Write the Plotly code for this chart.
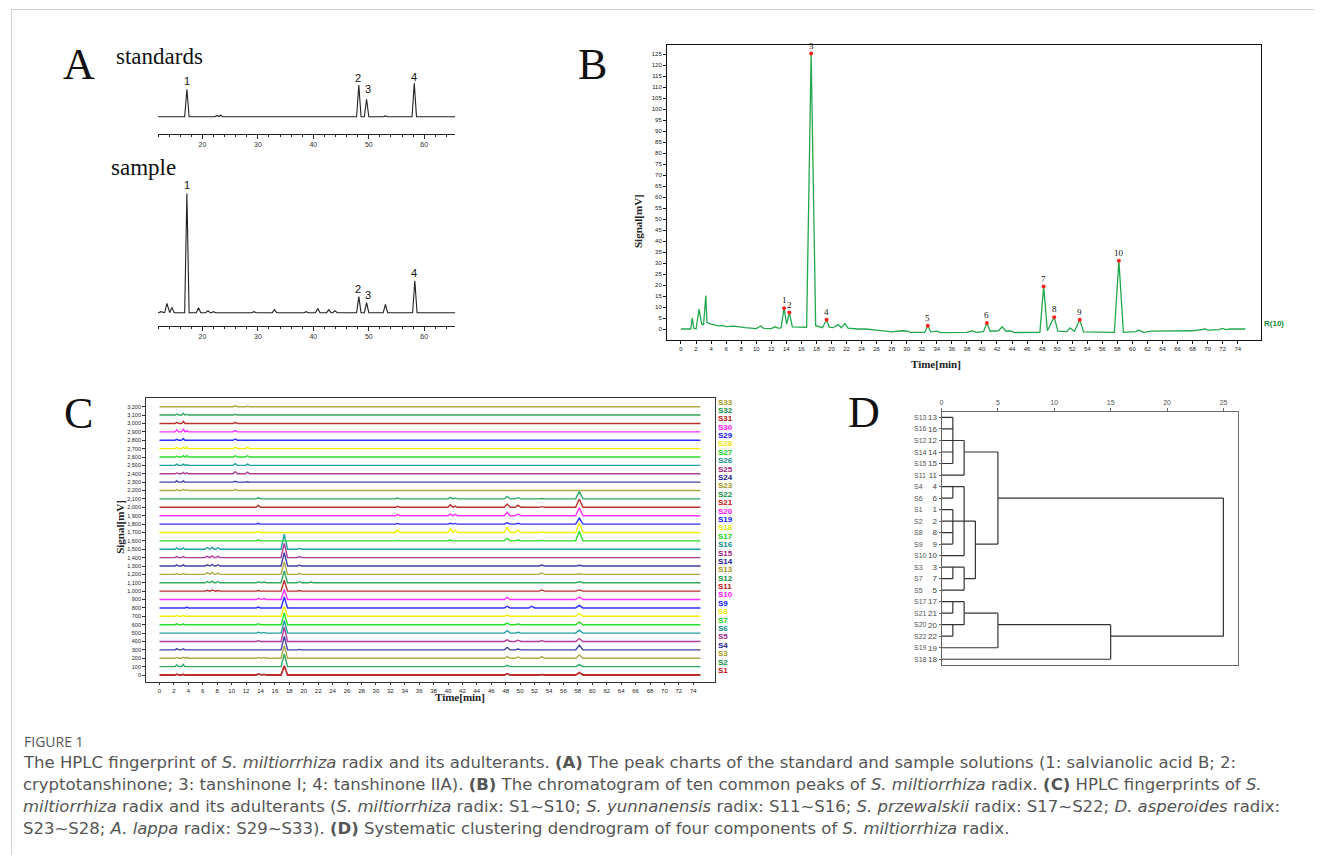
import plotly.graph_objects as go

# ================= DATA =================
# ---- Panel A (standards / sample), peak retention time (min) and height (a.u.) ----
A_STD_T = [17.2, 22.6, 23.3, 48.2, 49.6, 53.0, 58.2]
A_STD_H = [27.4, 1.2, 1.5, 31.7, 17.4, 0.8, 33.4]
A_SMP_T = [12.5, 13.6, 14.5, 17.2, 19.3, 21.0, 22.0, 29.3, 33.0, 38.7, 40.8, 42.8, 43.9, 48.2, 49.6, 53.0, 58.3]
A_SMP_H = [1.0, 9.3, 5.3, 119.3, 5.0, 2.0, 1.0, 1.0, 3.0, 1.0, 4.3, 3.0, 2.0, 16.0, 10.0, 8.3, 32.0]
A_PEAK_NAMES = ["1", "2", "3", "4"]
A_STD_LABEL_T = [17.2, 48.0, 49.8, 58.2]
A_STD_LABEL_Y = [36.0, 38.7, 27.7, 40.0]
A_SMP_LABEL_T = [17.2, 48.0, 49.8, 58.2]
A_SMP_LABEL_Y = [127.7, 23.7, 17.7, 40.0]
A_TICKS = [20, 30, 40, 50, 60]

# ---- Panel B: reference chromatogram R(10) (time min, signal mV) ----
B_T = [0, 1.3, 1.5, 1.7, 2.0, 2.4, 2.75, 3.0, 3.3, 3.45, 4.0, 5.0, 5.5, 6.0, 7.0, 7.5, 8.5, 10.0,
       10.6, 11.0, 12.0, 12.5, 12.9, 13.3, 13.7, 14.05, 14.4, 14.8, 16.7, 17.3, 17.9, 18.8, 19.35,
       19.7, 20.2, 20.9, 21.3, 21.8, 22.2, 23.5, 24.5, 26.0, 28.0, 29.3, 30.0, 30.5, 32.4, 32.8,
       33.2, 34.0, 34.5, 38.0, 38.7, 39.2, 40.2, 40.65, 41.1, 42.2, 42.7, 43.2, 43.7, 44.4, 47.7,
       48.2, 48.7, 49.6, 50.1, 51.3, 51.7, 52.3, 53.0, 53.5, 57.6, 58.2, 58.8, 60.5, 60.8, 61.5,
       62.5, 68.0, 69.7, 70.0, 71.5, 72.0, 72.4, 73.0, 75.0]
B_Y = [0, 0, 5.0, 0.3, 0.0, 9.0, 2.2, 2.0, 15.2, 3.0, 2.2, 1.4, 1.6, 1.1, 1.3, 1.0, 0.6, 0.2,
       1.4, 0.3, 0.2, 1.0, 0.4, 0.5, 9.5, 2.2, 7.5, 1.0, 0.8, 125.3, 1.5, 0.6, 4.2,
       0.8, 0.6, 2.0, 0.6, 2.5, 0.4, 0.0, 0.0, -0.5, -1.3, -0.8, -0.9, -1.5, -1.5, 1.5,
       -1.3, -1.0, -1.6, -1.5, -0.8, -1.5, -1.2, 2.7, -1.0, -0.8, 1.0, -1.0, -0.8, -1.6, -1.5,
       19.3, -0.8, 5.4, -1.0, -1.2, 0.5, -1.0, 4.2, -1.3, -1.5, 31.0, -1.5, -1.2, -0.5, -1.5,
       -1.0, -0.8, 0.0, -0.5, -0.3, 0.3, -0.3, 0.0, 0.0]
B_PEAK_T = [13.7, 14.4, 17.3, 19.35, 32.8, 40.65, 48.2, 49.6, 53.0, 58.2]
B_PEAK_NAMES = ["1", "2", "3", "4", "5", "6", "7", "8", "9", "10"]

# ---- Panel C: fingerprints S1..S33 (common retention times, heights in mV) ----
C_T = [1.5, 2.4, 3.3, 3.8, 6.6, 7.3, 8.1, 10.5, 12.2, 13.7, 14.5, 17.3, 19.4, 21.0,
       33.0, 35.5, 40.3, 41.0, 48.2, 49.7, 51.6, 53.0, 58.2]
C_W = [0.2, 0.25, 0.22, 0.22, 0.3, 0.3, 0.3, 0.3, 0.3, 0.3, 0.3, 0.45, 0.3, 0.3,
       0.3, 0.3, 0.3, 0.3, 0.4, 0.4, 0.4, 0.4, 0.5]
SMILT_H = [  # S1-S10
    [0, 10, 8, 0, 0, 0, 0, 0, 0, 12, 8, 110, 5, 0, 0, 0, 0, 0, 15, 0, 0, 5, 30],
    [0, 20, 25, 0, 0, 0, 0, 0, 0, 8, 8, 150, 0, 0, 0, 0, 0, 0, 15, 0, 0, 0, 25],
    [0, 10, 10, 10, 0, 0, 0, 0, 0, 10, 10, 150, 0, 0, 5, 0, 0, 0, 20, 15, 0, 20, 40],
    [0, 15, 12, 0, 0, 0, 0, 0, 0, 8, 0, 160, 5, 5, 0, 0, 0, 0, 30, 10, 0, 8, 55],
    [0, 0, 0, 0, 0, 0, 0, 0, 0, 10, 0, 170, 0, 0, 0, 0, 0, 0, 20, 15, 0, 10, 35],
    [0, 8, 8, 0, 0, 0, 0, 0, 0, 10, 8, 150, 6, 0, 0, 0, 0, 0, 30, 10, 0, 8, 35],
    [0, 10, 8, 0, 0, 0, 0, 0, 0, 10, 0, 140, 0, 0, 0, 0, 0, 0, 20, 8, 0, 8, 30],
    [0, 10, 10, 0, 0, 0, 0, 0, 0, 8, 0, 120, 0, 0, 0, 0, 0, 0, 15, 0, 0, 8, 30],
    [0, 0, 0, 10, 0, 0, 0, 0, 0, 10, 8, 130, 0, 0, 0, 0, 0, 0, 20, 0, 20, 0, 30],
    [0, 8, 8, 0, 0, 0, 0, 0, 0, 15, 12, 120, 8, 0, 0, 0, 0, 0, 25, 0, 0, 0, 30],
]
SYUNN_H = [  # S11-S16
    [0, 6, 8, 0, 10, 15, 8, 0, 0, 8, 8, 130, 8, 5, 0, 0, 0, 0, 6, 0, 0, 15, 15],
    [0, 8, 8, 0, 15, 20, 15, 0, 0, 10, 8, 140, 15, 8, 0, 0, 0, 0, 0, 0, 0, 8, 12],
    [0, 10, 10, 0, 20, 25, 15, 0, 0, 8, 8, 150, 12, 8, 0, 0, 0, 0, 0, 0, 0, 15, 8],
    [0, 15, 15, 0, 15, 20, 15, 0, 0, 8, 8, 160, 10, 8, 0, 0, 0, 0, 0, 0, 0, 12, 8],
    [0, 12, 12, 0, 15, 20, 15, 0, 0, 8, 0, 170, 12, 0, 0, 0, 0, 0, 0, 0, 0, 5, 0],
    [0, 15, 15, 0, 20, 25, 20, 0, 0, 8, 6, 180, 12, 6, 0, 0, 0, 0, 0, 0, 0, 5, 0],
]
SPRZ_H = [  # S17-S22
    [0, 0, 0, 0, 0, 0, 0, 0, 0, 12, 0, 0, 0, 0, 5, 0, 12, 0, 30, 10, 0, 5, 115],
    [0, 0, 0, 0, 0, 0, 0, 0, 0, 10, 0, 0, 0, 0, 30, 8, 45, 25, 60, 30, 0, 5, 115],
    [0, 0, 0, 0, 0, 0, 0, 0, 0, 10, 0, 0, 0, 0, 8, 0, 10, 8, 15, 10, 0, 0, 70],
    [0, 0, 0, 0, 0, 0, 0, 0, 0, 0, 0, 0, 0, 0, 15, 0, 20, 15, 40, 20, 0, 0, 95],
    [0, 0, 0, 0, 0, 0, 0, 0, 0, 25, 0, 0, 0, 0, 12, 8, 30, 15, 40, 25, 0, 8, 100],
    [0, 0, 0, 0, 0, 0, 0, 0, 0, 15, 0, 0, 0, 0, 10, 0, 20, 12, 30, 15, 0, 5, 90],
]
DASP_H = [  # S23-S28 (first 9 retention times; later ones absent)
    [0, 12, 15, 10, 0, 0, 0, 15, 8],
    [0, 15, 15, 8, 0, 0, 0, 10, 5],
    [0, 10, 15, 12, 0, 0, 0, 25, 20],
    [0, 15, 15, 10, 0, 0, 0, 20, 15],
    [0, 10, 15, 15, 0, 0, 0, 15, 15],
    [0, 15, 20, 15, 0, 0, 0, 20, 15],
]
ALAP_H = [  # S29-S33
    [0, 10, 20, 0, 0, 0, 0, 15, 0],
    [0, 25, 35, 15, 0, 0, 0, 15, 8],
    [0, 12, 25, 0, 0, 0, 0, 10, 0],
    [0, 12, 20, 10, 0, 0, 0, 10, 0],
    [5, 5, 8, 5, 0, 0, 0, 10, 5],
]
C_OFFSET_STEP = 100
C_LINE_COLORS = ["#b83030", "#30a860", "#b0a848", "#4040a8", "#b03c98",
                 "#20a0a0", "#28e028", "#f0f000", "#3030ff", "#ff30ff"]
C_LABEL_COLORS = ["#c01010", "#109040", "#a09820", "#202090", "#a02080",
                  "#108c8c", "#10d010", "#e8e800", "#1010ff", "#ff10ff"]
C_Y_TICKS = list(range(0, 3201, 100))

# ---- Panel D: dendrogram ----
D_LEAVES = [13, 16, 12, 14, 15, 11, 4, 6, 1, 2, 8, 9, 10, 3, 7, 5, 17, 21, 20, 22, 19, 18]
D_H_ROW = [0, 1, 2, 3, 4, 5, 3, 6, 7, 8, 9, 10, 11, 12, 13, 14, 15, 14, 11, 7,
           16, 17, 18, 19, 20, 21, 17, 18, 19]
D_H_X0 = [0, 0, 0, 0, 0, 0, 2, 0, 0, 0, 0, 0, 0, 0, 0, 0, 0, 2, 3, 5,
          0, 0, 0, 0, 0, 0, 2, 5, 15]
D_H_X1 = [1, 1, 2, 1, 1, 2, 5, 2, 1, 1, 3, 1, 1, 2, 2, 1, 2, 3, 5, 25,
          2, 1, 2, 1, 5, 15, 5, 15, 25]
D_V_X = [1, 2, 5, 1, 1, 2, 1, 2, 3, 25, 1, 1, 2, 5, 15]
D_V_R0 = [0, 2, 3, 6, 8, 6, 13, 13, 9, 7, 16, 18, 16, 17, 18]
D_V_R1 = [4, 5, 11, 7, 11, 12, 14, 15, 14, 19, 17, 19, 18, 20, 21]
D_TICKS = [0, 5, 10, 15, 20, 25]

CAPTION_LINES = [
    "The HPLC fingerprint of <i>S. miltiorrhiza</i> radix and its adulterants. <b>(A)</b> The peak charts of the standard and sample solutions (1: salvianolic acid B; 2:",
    "cryptotanshinone; 3: tanshinone I; 4: tanshinone IIA). <b>(B)</b> The chromatogram of ten common peaks of <i>S. miltiorrhiza</i> radix. <b>(C)</b> HPLC fingerprints of <i>S.</i>",
    "<i>miltiorrhiza</i> radix and its adulterants (<i>S. miltiorrhiza</i> radix: S1~S10; <i>S. yunnanensis</i> radix: S11~S16; <i>S. przewalskii</i> radix: S17~S22; <i>D. asperoides</i> radix:",
    "S23~S28; <i>A. lappa</i> radix: S29~S33). <b>(D)</b> Systematic clustering dendrogram of four components of <i>S. miltiorrhiza</i> radix.",
]

# ================= LAYOUT HELPERS =================
W, H, OX, OY = 1306, 847, 8, 8


def px_x(X):
    return (X - OX) / W


def px_y(Y):
    return 1 - (Y - OY) / H


def xdom(x0, x1):
    return [px_x(x0), px_x(x1)]


def ydom(ytop, ybot):
    return [px_y(ybot), px_y(ytop)]


def peak_line(times, heights, widths, t0, t1, base=0.0):
    xs, ys = [t0], [base]
    for t, h, w in zip(times, heights, widths):
        if h <= 0:
            continue
        xs += [t - w, t, t + w]
        ys += [base, base + h, base]
    xs.append(t1)
    ys.append(base)
    return xs, ys


SERIF = "Liberation Serif"
SANS = "Liberation Sans"
CAP_FONT = "DejaVu Sans"

fig = go.Figure()
annotations = []

# ================= PANEL A =================
xs, ys = peak_line(A_STD_T, A_STD_H, [0.4] * len(A_STD_T), 12.0, 65.6)
fig.add_trace(go.Scatter(x=xs, y=ys, mode="lines", line=dict(color="#202020", width=1.1),
                         xaxis="x", yaxis="y", showlegend=False, hoverinfo="skip"))
xs, ys = peak_line(A_SMP_T, A_SMP_H, [0.4] * len(A_SMP_T), 12.0, 65.6)
fig.add_trace(go.Scatter(x=xs, y=ys, mode="lines", line=dict(color="#202020", width=1.1),
                         xaxis="x2", yaxis="y2", showlegend=False, hoverinfo="skip"))
for name, t, y in zip(A_PEAK_NAMES, A_STD_LABEL_T, A_STD_LABEL_Y):
    annotations.append(dict(x=t, y=y, xref="x", yref="y", text=name, showarrow=False,
                            font=dict(family=SANS, size=11, color="#111"), yanchor="middle"))
for name, t, y in zip(A_PEAK_NAMES, A_SMP_LABEL_T, A_SMP_LABEL_Y):
    annotations.append(dict(x=t, y=y, xref="x2", yref="y2", text=name, showarrow=False,
                            font=dict(family=SANS, size=11, color="#111"), yanchor="middle"))

a_xaxis = dict(range=[11.95, 65.6], showline=True, linecolor="#222", linewidth=1,
               ticks="outside", ticklen=4, tickcolor="#222", tickvals=A_TICKS,
               tickfont=dict(family=SANS, size=7, color="#333"), showgrid=False, zeroline=False,
               minor=dict(ticks="outside", ticklen=2, dtick=2, tickcolor="#222", showgrid=False))
a_yaxis = dict(visible=False, showgrid=False, zeroline=False)

# ================= PANEL B =================
fig.add_trace(go.Scatter(x=B_T, y=B_Y, mode="lines", line=dict(color="#22a84c", width=1.3),
                         xaxis="x3", yaxis="y3", showlegend=False, hoverinfo="skip"))
b_peak_y = [B_Y[B_T.index(t)] for t in B_PEAK_T]
fig.add_trace(go.Scatter(x=B_PEAK_T, y=b_peak_y, mode="markers",
                         marker=dict(color="#ff2020", size=4), xaxis="x3", yaxis="y3",
                         showlegend=False, hoverinfo="skip"))
for name, t, y in zip(B_PEAK_NAMES, B_PEAK_T, b_peak_y):
    annotations.append(dict(x=t, y=y, xref="x3", yref="y3", text=name, showarrow=False,
                            yanchor="bottom", yshift=1,
                            font=dict(family=SERIF, size=9, color="#111")))
annotations.append(dict(x=px_x(1262), y=px_y(324), xref="paper", yref="paper", text="<b>R(10)</b>",
                        showarrow=False, xanchor="left", yanchor="middle",
                        font=dict(family=SANS, size=8, color="#108a30")))
annotations.append(dict(x=px_x(637), y=px_y(192), xref="paper", yref="paper", text="<b>Signal[mV]</b>",
                        showarrow=False, textangle=-90, font=dict(family=SERIF, size=11, color="#222")))
annotations.append(dict(x=px_x(962), y=px_y(364), xref="paper", yref="paper", text="<b>Time[min]</b>",
                        showarrow=False, font=dict(family=SERIF, size=11, color="#222")))

b_xaxis = dict(range=[-1.86, 77.1], showline=True, mirror=True, linecolor="#111", linewidth=1,
               ticks="outside", ticklen=3, tickcolor="#111", tickvals=list(range(0, 75, 2)),
               tickfont=dict(family=SANS, size=6, color="#222"), showgrid=False, zeroline=False)
b_yaxis = dict(range=[-5.0, 129.2], showline=True, mirror=True, linecolor="#111", linewidth=1,
               ticks="outside", ticklen=3, tickcolor="#111", tickvals=list(range(0, 126, 5)),
               tickfont=dict(family=SANS, size=6, color="#222"), showgrid=False, zeroline=False)

# ================= PANEL C =================
groups = SMILT_H + SYUNN_H + SPRZ_H + DASP_H + ALAP_H
for i, hts in enumerate(groups):
    hts_full = hts + [0] * (len(C_T) - len(hts))
    base = i * C_OFFSET_STEP
    xs, ys = peak_line(C_T, hts_full, C_W, 0.0, 75.0, base)
    col = C_LINE_COLORS[i % 10]
    fig.add_trace(go.Scatter(x=xs, y=ys, mode="lines", line=dict(color=col, width=1.4 if i else 1.8),
                             xaxis="x4", yaxis="y4", showlegend=False, hoverinfo="skip"))
    annotations.append(dict(x=px_x(715), y=base + 55, xref="paper", yref="y4", text="<b>S%d</b>" % (i + 1),
                            showarrow=False, xanchor="left", yanchor="middle",
                            font=dict(family=SANS, size=8, color=C_LABEL_COLORS[i % 10])))
annotations.append(dict(x=px_x(110), y=px_y(527), xref="paper", yref="paper", text="<b>Signal[mV]</b>",
                        showarrow=False, textangle=-90, font=dict(family=SERIF, size=11, color="#222")))
annotations.append(dict(x=px_x(432), y=px_y(705), xref="paper", yref="paper", text="<b>Time[min]</b>",
                        showarrow=False, font=dict(family=SERIF, size=11, color="#222")))

c_xaxis = dict(range=[-1.86, 77.0], showline=True, mirror=True, linecolor="#333", linewidth=1,
               ticks="outside", ticklen=2, tickcolor="#333", tickvals=list(range(0, 75, 2)),
               tickfont=dict(family=SANS, size=6, color="#222"), showgrid=False, zeroline=False)
c_yaxis = dict(range=[-87, 3300], showline=True, mirror=True, linecolor="#333", linewidth=1,
               ticks="outside", ticklen=3, tickcolor="#333", tickvals=C_Y_TICKS,
               ticktext=["{:,}".format(v) for v in C_Y_TICKS],
               tickfont=dict(family=SANS, size=5.5, color="#222"), showgrid=False, zeroline=False)

# ================= PANEL D =================
dx, dy = [], []
for r, x0, x1 in zip(D_H_ROW, D_H_X0, D_H_X1):
    dx += [x0, x1, None]
    dy += [r, r, None]
for x, r0, r1 in zip(D_V_X, D_V_R0, D_V_R1):
    dx += [x, x, None]
    dy += [r0, r1, None]
fig.add_trace(go.Scatter(x=dx, y=dy, mode="lines", line=dict(color="#333", width=1.2),
                         xaxis="x5", yaxis="y5", showlegend=False, hoverinfo="skip"))
for r, leaf in enumerate(D_LEAVES):
    annotations.append(dict(x=px_x(911), y=r, xref="paper", yref="y5", text="S%d" % leaf,
                            showarrow=False, xanchor="left", yanchor="middle",
                            font=dict(family=SANS, size=7, color="#555")))

d_xaxis = dict(range=[0, 26.28], side="top", showline=True, mirror=True, linecolor="#666", linewidth=1,
               ticks="outside", ticklen=3, tickcolor="#666", tickvals=D_TICKS,
               tickfont=dict(family=SANS, size=7, color="#555"), showgrid=False, zeroline=False)
d_yaxis = dict(range=[21.5, -0.5], showline=True, mirror=True, linecolor="#666", linewidth=1,
               ticks="outside", ticklen=2, tickcolor="#666", tickvals=list(range(len(D_LEAVES))),
               ticktext=[str(v) for v in D_LEAVES],
               tickfont=dict(family=SANS, size=8, color="#444"), showgrid=False, zeroline=False)

# ================= TEXT =================
annotations.append(dict(x=px_x(112), y=px_y(56), xref="paper", yref="paper", text="standards",
                        showarrow=False, xanchor="left", yanchor="middle",
                        font=dict(family=SERIF, size=23, color="#111")))
annotations.append(dict(x=px_x(107), y=px_y(168), xref="paper", yref="paper", text="sample",
                        showarrow=False, xanchor="left", yanchor="middle",
                        font=dict(family=SERIF, size=23, color="#111")))
for letter, (lx, ly) in zip(["A", "B", "C", "D"], [(77, 64), (591, 64), (77, 413), (863, 412)]):
    annotations.append(dict(x=px_x(lx), y=px_y(ly), xref="paper", yref="paper", text=letter,
                            showarrow=False, xanchor="center", yanchor="middle",
                            font=dict(family=SERIF, size=44, color="#111")))

annotations.append(dict(x=px_x(20), y=px_y(741), xref="paper", yref="paper", text="FIGURE 1",
                        showarrow=False, xanchor="left", yanchor="middle",
                        font=dict(family="Open Sans", size=14, color="#555")))
for k, line in enumerate(CAPTION_LINES):
    annotations.append(dict(x=px_x(19), y=px_y(762 + 22 * k), xref="paper", yref="paper", text=line,
                            showarrow=False, xanchor="left", yanchor="middle",
                            font=dict(family=CAP_FONT, size=16.5, color="#555")))

shapes = [dict(type="rect", xref="paper", yref="paper", x0=px_x(9.5), x1=px_x(1400),
               y0=px_y(900), y1=px_y(9.5), line=dict(color="#d0d0d0", width=1))]

fig.update_layout(
    width=W, height=H, autosize=False,
    margin=dict(l=0, r=0, t=0, b=0),
    paper_bgcolor="white", plot_bgcolor="white",
    showlegend=False,
    xaxis=dict(domain=xdom(156, 454), anchor="y", **a_xaxis),
    yaxis=dict(domain=ydom(75, 134), range=[-17.3, 41.7], anchor="x", **a_yaxis),
    xaxis2=dict(domain=xdom(156, 454), anchor="y2", **a_xaxis),
    yaxis2=dict(domain=ydom(185, 325.7), range=[-13, 127.7], anchor="x2", **a_yaxis),
    xaxis3=dict(domain=xdom(666, 1261), anchor="y3", **b_xaxis),
    yaxis3=dict(domain=ydom(45, 340), anchor="x3", **b_yaxis),
    xaxis4=dict(domain=xdom(144.3, 714), anchor="y4", **c_xaxis),
    yaxis4=dict(domain=ydom(398.3, 682.3), anchor="x4", **c_yaxis),
    xaxis5=dict(domain=xdom(941, 1237.7), anchor="y5", **d_xaxis),
    yaxis5=dict(domain=ydom(411.7, 665), anchor="x5", **d_yaxis),
    annotations=annotations,
    shapes=shapes,
)

fig.write_html("out.html")
